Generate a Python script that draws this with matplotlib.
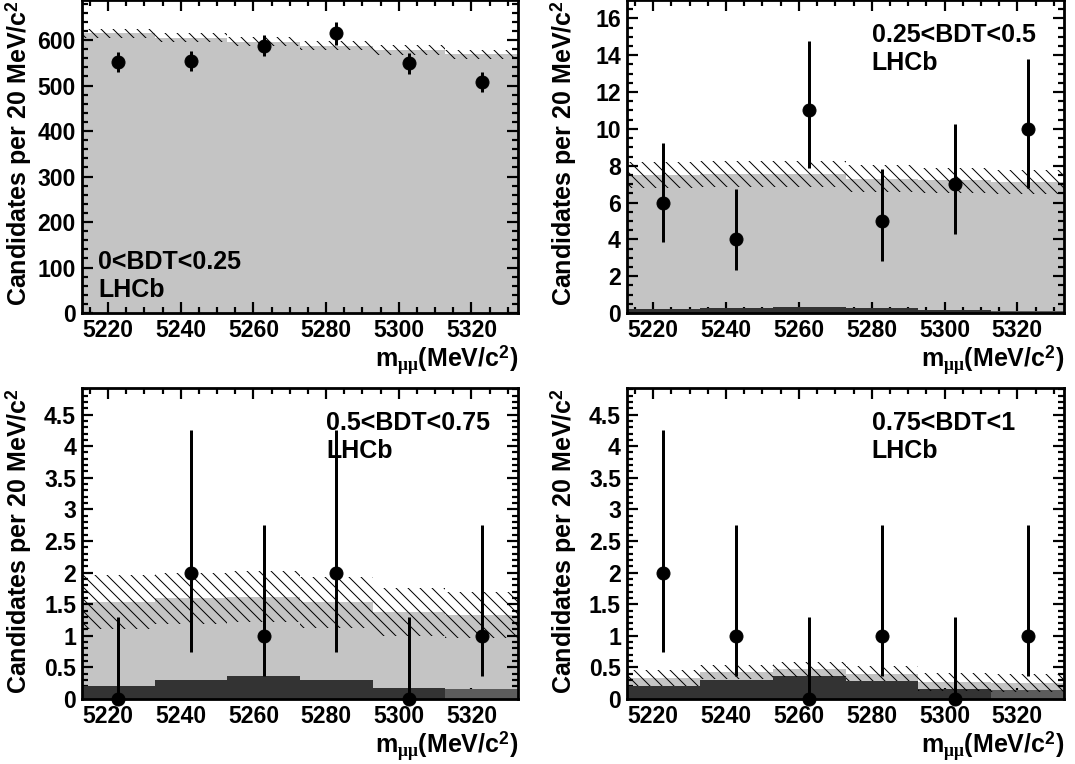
import numpy as np
import matplotlib
matplotlib.use('Agg')
import matplotlib.pyplot as plt
from matplotlib.ticker import MultipleLocator, FormatStrFormatter

plt.rcParams['font.family'] = ['Liberation Sans', 'DejaVu Sans']
plt.rcParams['font.weight'] = 'bold'
plt.rcParams['axes.labelweight'] = 'bold'
plt.rcParams['mathtext.fontset'] = 'custom'
plt.rcParams['mathtext.rm'] = 'Liberation Sans:bold'
plt.rcParams['mathtext.it'] = 'Liberation Serif'
plt.rcParams['mathtext.bf'] = 'Liberation Sans:bold'
plt.rcParams['hatch.linewidth'] = 1.0

# bin edges of the dimuon mass window (MeV/c^2)
edges = [5212.8, 5232.8, 5252.8, 5272.8, 5292.8, 5312.8, 5332.8]

bdt_labels = ['0<BDT<0.25', '0.25<BDT<0.5', '0.5<BDT<0.75', '0.75<BDT<1']

# observed candidates and their error intervals
obs_1 = [552, 554, 587, 615, 549, 508]
lo_1 = [530, 532, 564, 590, 526, 486]
hi_1 = [574, 576, 610, 640, 572, 530]

obs_2 = [6, 4, 11, 5, 7, 10]
lo_2 = [3.85, 2.35, 7.85, 2.8, 4.3, 6.8]
hi_2 = [9.25, 6.75, 14.8, 7.8, 10.25, 13.8]

obs_3 = [0, 2, 1, 2, 0, 1]
lo_3 = [0, 0.74, 0.37, 0.74, 0, 0.37]
hi_3 = [1.29, 4.25, 2.75, 4.25, 1.29, 2.75]

obs_4 = [2, 1, 0, 1, 0, 1]
lo_4 = [0.74, 0.37, 0, 0.37, 0, 0.37]
hi_4 = [4.25, 2.75, 1.29, 2.75, 1.29, 2.75]

# expected total (light grey) with its uncertainty (hatched)
tot_1 = [615, 605, 596, 587, 578, 569]
unc_1 = [10, 10, 10, 10, 10, 10]
tot_2 = [7.5, 7.55, 7.55, 7.3, 7.2, 7.1]
unc_2 = [0.7, 0.7, 0.7, 0.72, 0.7, 0.65]
tot_3 = [1.53, 1.59, 1.62, 1.53, 1.37, 1.33]
unc_3 = [0.43, 0.40, 0.40, 0.40, 0.38, 0.37]
tot_4 = [0.33, 0.42, 0.47, 0.40, 0.265, 0.25]
unc_4 = [0.13, 0.11, 0.12, 0.12, 0.14, 0.14]

# dark component
sig_1 = [0.2, 0.3, 0.37, 0.3, 0.17, 0.15]
sig_2 = [0.2, 0.28, 0.35, 0.28, 0.14, 0.12]
sig_3 = [0.21, 0.305, 0.37, 0.295, 0.17, 0.16]
sig_4 = [0.21, 0.30, 0.365, 0.29, 0.16, 0.14]

panels = [
    (obs_1, lo_1, hi_1, tot_1, unc_1, sig_1, 688, 100, 20, '%g'),
    (obs_2, lo_2, hi_2, tot_2, unc_2, sig_2, 17, 2, 0.5, '%g'),
    (obs_3, lo_3, hi_3, tot_3, unc_3, sig_3, 4.92, 0.5, 0.1, '%g'),
    (obs_4, lo_4, hi_4, tot_4, unc_4, sig_4, 4.92, 0.5, 0.1, '%g'),
]

W, H = 1075, 764
fig = plt.figure(figsize=(W / 72, H / 72), dpi=72)

# axes boxes in pixels: left, top, right, bottom
boxes = [(82, 0, 518, 313), (627, 0, 1064, 313),
         (82, 388, 518, 699), (627, 388, 1064, 699)]
text_pos = [(0.037, 0.14, 0.05), (0.56, 0.865, 0.775),
            (0.56, 0.865, 0.775), (0.56, 0.865, 0.775)]

edges_a = np.array(edges)
centers = 0.5 * (edges_a[:-1] + edges_a[1:])
widths = np.diff(edges_a)
dark_cols = ['#333333'] * 5 + ['#5c5c5c']

for i, (obs, lo, hi, tot, unc, sig, ymax, ymaj, ymin, fmt) in enumerate(panels):
    l, t, r, b = boxes[i]
    ax = fig.add_axes([l / W, 1 - b / H, (r - l) / W, (b - t) / H])

    tot = np.array(tot)
    unc = np.array(unc)
    obs = np.array(obs)

    ax.stairs(tot, edges_a, fill=True, color='#c4c4c4', lw=0, zorder=1)
    ax.bar(centers, sig, width=widths, color=dark_cols, lw=0, zorder=2)
    ax.stairs(tot + unc, edges_a, baseline=tot - unc, fill=True,
              hatch='\\\\', facecolor='none', edgecolor='black', lw=0, zorder=3)

    yerr = [obs - np.array(lo), np.array(hi) - obs]
    ax.errorbar(centers, obs, yerr=yerr, fmt='o', color='black',
                markersize=13, elinewidth=3, capsize=0, zorder=5, clip_on=False)

    ax.set_xlim(edges_a[0], edges_a[-1])
    ax.set_ylim(0, ymax)

    ax.xaxis.set_major_locator(MultipleLocator(20))
    ax.xaxis.set_minor_locator(MultipleLocator(5))
    ax.yaxis.set_major_locator(MultipleLocator(ymaj))
    ax.yaxis.set_minor_locator(MultipleLocator(ymin))
    ax.yaxis.set_major_formatter(FormatStrFormatter(fmt))
    ax.set_xticks([5220, 5240, 5260, 5280, 5300, 5320])

    ax.tick_params(which='both', direction='in', top=True, right=True,
                   width=2.2, labelsize=23)
    ax.tick_params(which='major', length=11, pad=6)
    ax.tick_params(which='minor', length=6)
    for sp in ax.spines.values():
        sp.set_linewidth(2.8)

    ax.set_ylabel(r'Candidates per 20 MeV/c$^{2}$', fontsize=25, loc='top')
    ax.yaxis.set_label_coords(-48 / (r - l), 1.0)
    ax.set_xlabel(r'm$_{\mu\mu}$(MeV/c$^{2}$)', fontsize=25, loc='right')
    ax.xaxis.set_label_coords(1.0, -30 / (b - t))

    tx, ty1, ty2 = text_pos[i]
    ax.text(tx, ty1, bdt_labels[i], transform=ax.transAxes, fontsize=25,
            va='baseline', zorder=6)
    ax.text(tx, ty2, 'LHCb', transform=ax.transAxes, fontsize=25,
            va='baseline', zorder=6)

fig.savefig('out.png', dpi=72)
